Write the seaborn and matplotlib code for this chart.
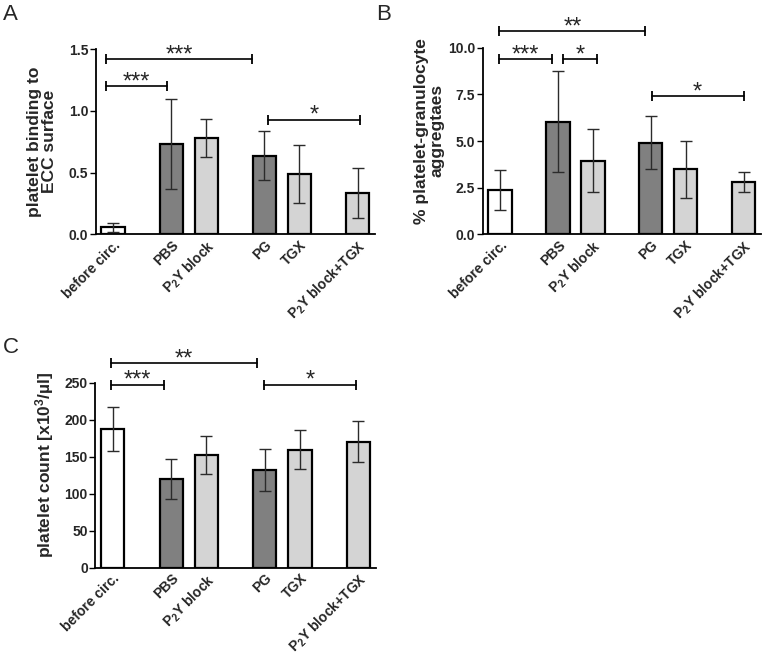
import numpy as np
import pandas as pd
import matplotlib
matplotlib.use("Agg")
import matplotlib.pyplot as plt
import seaborn as sns

# categories (same order in all three panels)
conditions = ["before circ.", "PBS", "P$_2$Y block", "PG", "TGX", "P$_2$Y block+TGX"]
groups = ["baseline", "vehicle", "inhibitor", "vehicle", "inhibitor", "inhibitor"]

# A: platelet binding to ECC surface (mean, SD)
binding_mean = [0.058, 0.733, 0.782, 0.637, 0.490, 0.335]
binding_sd = [0.037, 0.367, 0.153, 0.200, 0.234, 0.204]

# B: % platelet-granulocyte aggregates (mean, SD)
aggr_mean = [2.37, 6.03, 3.94, 4.92, 3.48, 2.80]
aggr_sd = [1.065, 2.70, 1.685, 1.435, 1.54, 0.535]

# C: platelet count [x10^3/ul] (mean, SD)
count_mean = [187.5, 119.8, 152.3, 132.3, 159.5, 170.2]
count_sd = [30.0, 27.3, 26.1, 28.6, 26.6, 27.7]

# significance brackets: (x start, x end, height, label)
brackets_a = [(-0.21, 1.54, 1.20, "***"), (-0.21, 3.99, 1.42, "***"),
              (4.43, 7.07, 0.93, "*")]
brackets_b = [(-0.02, 1.49, 9.39, "***"), (1.81, 2.78, 9.39, "*"),
              (-0.02, 4.18, 10.89, "**"), (4.36, 7.0, 7.41, "*")]
brackets_c = [(-0.06, 1.45, 247, "***"), (-0.06, 4.12, 276, "**"),
              (4.30, 6.93, 247, "*")]

# layout: bar centres on a numeric axis, with gaps between the groups
xpos = [0, 1.67, 2.67, 4.33, 5.33, 7.0]
palette = {"baseline": "white", "vehicle": "#808080", "inhibitor": "#d4d4d4"}

sns.set_style("ticks")
plt.rcParams["font.family"] = ["Liberation Sans", "DejaVu Sans"]
plt.rcParams["mathtext.fontset"] = "custom"
plt.rcParams["mathtext.rm"] = "Liberation Sans:bold"
plt.rcParams["mathtext.bf"] = "Liberation Sans:bold"
plt.rcParams["mathtext.it"] = "Liberation Sans:bold:italic"
plt.rcParams["mathtext.default"] = "rm"


def panel(ax, means, sds, ymax, yticks, fmt, ylabel, label_y, brackets):
    df = pd.DataFrame({"x": xpos, "value": means, "group": groups})
    sns.barplot(data=df, x="x", y="value", hue="group", palette=palette,
                native_scale=True, dodge=False, width=0.67, errorbar=None,
                edgecolor="black", linewidth=1.6, legend=False, ax=ax)
    ax.errorbar(xpos, means, yerr=sds, fmt="none", ecolor="#2b2b2b",
                elinewidth=1.0, capsize=4.2, capthick=1.0, zorder=5)
    for x1, x2, y, txt in brackets:
        ax.plot([x1, x2], [y, y], color="black", lw=1.2, marker="|",
                markersize=7.5, mew=1.3, clip_on=False, zorder=6)
        ax.annotate(txt, ((x1 + x2) / 2, y), xytext=(0, -1.5),
                    textcoords="offset points", ha="center", va="baseline",
                    fontsize=17, annotation_clip=False)
    ax.set_xlim(-0.49, 7.5)
    ax.set_ylim(0, ymax)
    ax.set_yticks(yticks)
    ax.set_yticklabels([fmt.format(t) for t in yticks], fontsize=10,
                       fontweight="bold")
    ax.set_xticks(xpos)
    ax.set_xticklabels(conditions, rotation=45, ha="right",
                       rotation_mode="anchor", fontsize=10, fontweight="bold")
    ax.tick_params(axis="x", length=0, pad=2.5)
    ax.tick_params(axis="y", length=4, width=1.0, pad=1.5, color="black")
    ax.set_xlabel("")
    ax.set_ylabel(ylabel, fontsize=12.5, fontweight="bold", linespacing=1.0)
    ax.yaxis.set_label_coords(-0.14, label_y)
    sns.despine(ax=ax)
    for s in ("left", "bottom"):
        ax.spines[s].set_linewidth(1.3)
        ax.spines[s].set_color("black")


fig = plt.figure(figsize=(7.68, 6.58), dpi=100)
ax_a = fig.add_axes([0.125, 0.6439, 0.3633, 0.2812])
ax_b = fig.add_axes([0.6289, 0.6439, 0.3620, 0.2836])
ax_c = fig.add_axes([0.1243, 0.1372, 0.3652, 0.2812])

panel(ax_a, binding_mean, binding_sd, 1.5, [0, 0.5, 1.0, 1.5], "{:.1f}",
      "platelet binding to\nECC surface", 0.5, brackets_a)
panel(ax_b, aggr_mean, aggr_sd, 10, [0, 2.5, 5.0, 7.5, 10.0], "{:.1f}",
      "% platelet-granulocyte\naggregtaes", 0.555, brackets_b)
panel(ax_c, count_mean, count_sd, 250, [0, 50, 100, 150, 200, 250], "{:.0f}",
      "platelet count [x10$^3$/µl]", 0.555, brackets_c)

fig.text(3 / 768, 1 - 4 / 658, "A", fontsize=16, va="top", ha="left")
fig.text(376 / 768, 1 - 4 / 658, "B", fontsize=16, va="top", ha="left")
fig.text(3 / 768, 1 - 337 / 658, "C", fontsize=16, va="top", ha="left")

fig.savefig("out.png", dpi=100)
